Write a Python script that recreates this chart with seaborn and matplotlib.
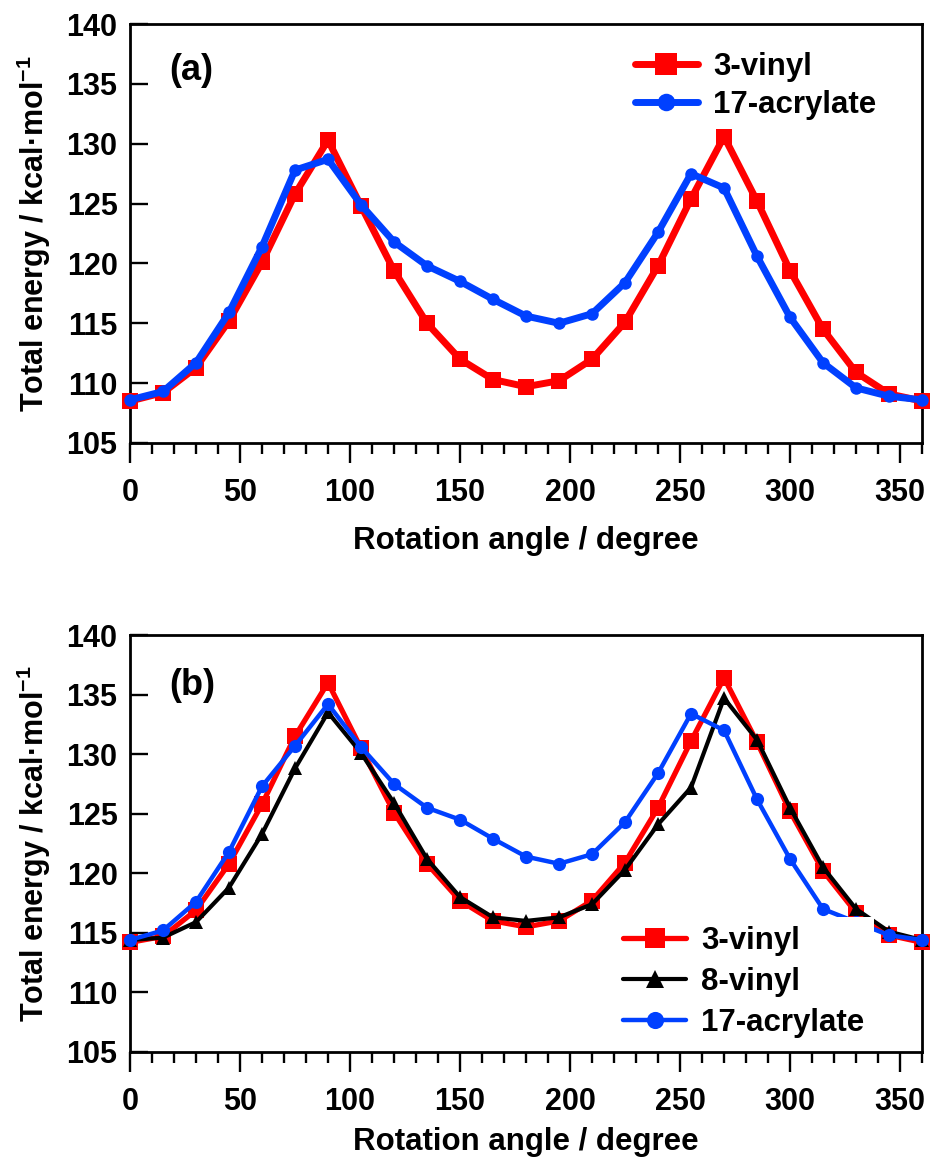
import matplotlib
matplotlib.use('Agg')
import matplotlib.pyplot as plt
import seaborn as sns
from matplotlib.ticker import MultipleLocator

# ---------------- data ----------------
angles = [0, 15, 30, 45, 60, 75, 90, 105, 120, 135, 150, 165, 180,
          195, 210, 225, 240, 255, 270, 285, 300, 315, 330, 345, 360]

a_3vinyl = [108.5, 109.2, 111.3, 115.2, 120.1, 125.8, 130.3, 124.8, 119.4, 115.0, 112.0, 110.3, 109.7,
            110.2, 112.0, 115.1, 119.8, 125.4, 130.6, 125.2, 119.4, 114.5, 110.9, 109.1, 108.5]
a_17acrylate = [108.6, 109.3, 111.7, 115.9, 121.4, 127.8, 128.7, 124.9, 121.8, 119.8, 118.5, 117.0, 115.6,
                115.0, 115.8, 118.4, 122.6, 127.5, 126.3, 120.6, 115.5, 111.7, 109.6, 108.9, 108.6]

b_3vinyl = [114.2, 114.7, 116.9, 120.8, 125.8, 131.5, 136.0, 130.5, 125.1, 120.8, 117.7, 116.0, 115.5,
            116.0, 117.7, 120.9, 125.5, 131.1, 136.4, 131.0, 125.2, 120.2, 116.7, 114.8, 114.2]
b_8vinyl = [114.4, 114.6, 115.9, 118.8, 123.3, 128.8, 133.5, 130.1, 125.9, 121.2, 118.0, 116.3, 116.0,
            116.3, 117.4, 120.3, 124.1, 127.2, 134.7, 131.2, 125.5, 120.5, 117.0, 115.1, 114.4]
b_17acrylate = [114.4, 115.2, 117.6, 121.8, 127.3, 130.7, 134.2, 130.6, 127.5, 125.5, 124.5, 122.9, 121.4,
                120.8, 121.6, 124.3, 128.4, 133.4, 132.0, 126.2, 121.2, 117.0, 115.9, 114.8, 114.4]

labels_a = ['3-vinyl', '17-acrylate']
labels_b = ['3-vinyl', '8-vinyl', '17-acrylate']
yticks = [105, 110, 115, 120, 125, 130, 135, 140]
xlabel = 'Rotation angle / degree'
ylabel = r'Total energy / kcal·mol$^{-1}$'

# ---------------- style ----------------
sns.set_style('ticks')
plt.rcParams['font.family'] = ['Liberation Sans', 'DejaVu Sans']
plt.rcParams['font.weight'] = 'bold'
plt.rcParams['axes.labelweight'] = 'bold'
plt.rcParams['text.color'] = 'black'
plt.rcParams['axes.labelcolor'] = 'black'
plt.rcParams['xtick.color'] = 'black'
plt.rcParams['ytick.color'] = 'black'
plt.rcParams['axes.edgecolor'] = 'black'
plt.rcParams['mathtext.fontset'] = 'custom'
plt.rcParams['mathtext.rm'] = 'Liberation Sans:bold'
plt.rcParams['mathtext.bf'] = 'Liberation Sans:bold'
plt.rcParams['mathtext.default'] = 'rm'

RED = '#ff0000'
BLUE = '#0040ff'
BLACK = '#000000'
FS = 22

fig = plt.figure(figsize=(9.36, 11.62), dpi=100)
ax1 = fig.add_axes([0.1389, 0.6188, 0.8462, 0.3605])
ax2 = fig.add_axes([0.1389, 0.0947, 0.8462, 0.3588])


def style_axes(ax, xpad):
    ax.set_xlim(0, 360)
    ax.set_ylim(105, 140)
    ax.set_yticks(yticks)
    ax.xaxis.set_major_locator(MultipleLocator(50))
    ax.xaxis.set_minor_locator(MultipleLocator(10))
    for s in ax.spines.values():
        s.set_linewidth(2.0)
        s.set_color('black')
        s.set_visible(True)
    ax.tick_params(axis='x', which='major', direction='out', length=14.5, width=1.7,
                   pad=11, labelsize=FS, top=False, bottom=True, colors='black')
    ax.tick_params(axis='x', which='minor', direction='out', length=8, width=1.7,
                   top=False, bottom=True, colors='black')
    ax.tick_params(axis='y', which='major', direction='in', length=13, width=1.7,
                   pad=9, labelsize=FS, right=False, left=True, colors='black')
    for lab in ax.get_xticklabels() + ax.get_yticklabels():
        lab.set_fontweight('bold')
    ax.set_xlabel(xlabel, fontsize=FS + 0.5, fontweight='bold', labelpad=xpad, color='black')
    ax.set_ylabel(ylabel, fontsize=FS, fontweight='bold', labelpad=10, color='black')
    ax.grid(False)


# ---------------- panel (a) ----------------
sns.lineplot(x=angles, y=a_3vinyl, ax=ax1, color=RED, marker='s', markersize=11,
             markeredgewidth=0, linewidth=5, label=labels_a[0], clip_on=False, zorder=3)
sns.lineplot(x=angles, y=a_17acrylate, ax=ax1, color=BLUE, marker='o', markersize=9,
             markeredgewidth=0, linewidth=5, label=labels_a[1], clip_on=False, zorder=4)
style_axes(ax1, 13)
ax1.text(0.077, 0.89, '(a)', transform=ax1.transAxes, fontsize=26, fontweight='bold',
         ha='center', va='center', color='black')
leg1 = ax1.legend(loc='upper left', bbox_to_anchor=(0.6376, 0.9335), frameon=False,
                  fontsize=FS + 0.5, handlelength=2.0, handletextpad=0.5, labelspacing=0.25,
                  borderpad=0, borderaxespad=0, markerscale=1.4)
for t in leg1.get_texts():
    t.set_fontweight('bold')
    t.set_color('black')

# ---------------- panel (b) ----------------
sns.lineplot(x=angles, y=b_3vinyl, ax=ax2, color=RED, marker='s', markersize=11.5,
             markeredgewidth=0, linewidth=3.8, label=labels_b[0], clip_on=False, zorder=3)
sns.lineplot(x=angles, y=b_8vinyl, ax=ax2, color=BLACK, marker='^', markersize=10,
             markeredgewidth=0, linewidth=3.0, label=labels_b[1], clip_on=False, zorder=4)
sns.lineplot(x=angles, y=b_17acrylate, ax=ax2, color=BLUE, marker='o', markersize=9.5,
             markeredgewidth=0, linewidth=3.2, label=labels_b[2], clip_on=False, zorder=5)
style_axes(ax2, 7)
ax2.text(0.078, 0.878, '(b)', transform=ax2.transAxes, fontsize=26, fontweight='bold',
         ha='center', va='center', color='black')
leg2 = ax2.legend(loc='upper left', bbox_to_anchor=(0.611, 0.3237), frameon=True,
                  facecolor='white', edgecolor='none', framealpha=1.0, fancybox=False,
                  fontsize=FS + 0.5, handlelength=2.0, handletextpad=0.5, labelspacing=0.35,
                  borderpad=0.3, borderaxespad=0, markerscale=1.3)
leg2.set_zorder(10)
for t in leg2.get_texts():
    t.set_fontweight('bold')
    t.set_color('black')

fig.savefig('out.png', dpi=100)
